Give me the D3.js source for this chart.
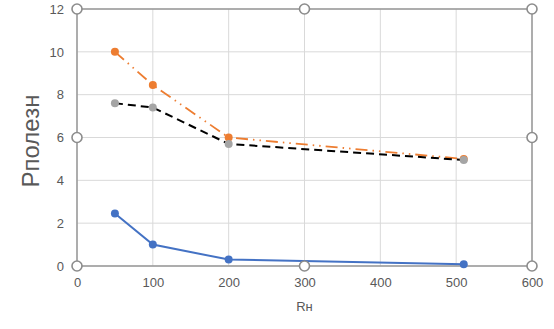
<!DOCTYPE html>
<html>
<head>
<meta charset="utf-8">
<script src="https://cdn.jsdelivr.net/npm/d3@7"></script>
<style>
  html, body { margin: 0; padding: 0; background: #fff; }
  svg { display: block; font-family: "Liberation Sans", "DejaVu Sans", sans-serif; }
</style>
</head>
<body>
<svg id="chart" width="554" height="329"></svg>
<script>
const xValues = [50, 100, 200, 510];
const seriesBlue = [2.45, 1.0, 0.3, 0.08];
const seriesOrange = [10.0, 8.45, 6.0, 5.0];
const seriesGray = [7.6, 7.4, 5.7, 4.95];
const xTicks = [0, 100, 200, 300, 400, 500, 600];
const yTicks = [0, 2, 4, 6, 8, 10, 12];
const yTitle = "Рполезн";
const xTitle = "Rн";

const svg = d3.select("#chart");
const pL = 77, pR = 532, pT = 9, pB = 266;

const x = d3.scaleLinear().domain([0, 600]).range([pL, pR]);
const y = d3.scaleLinear().domain([0, 12]).range([pB, pT]);

// gridlines
const g = svg.append("g");
g.selectAll("line.hg").data(yTicks).enter().append("line")
  .attr("x1", pL).attr("x2", pR)
  .attr("y1", d => y(d)).attr("y2", d => y(d))
  .attr("stroke", "#d9d9d9").attr("stroke-width", 1);
g.selectAll("line.vg").data(xTicks).enter().append("line")
  .attr("y1", pT).attr("y2", pB)
  .attr("x1", d => x(d)).attr("x2", d => x(d))
  .attr("stroke", "#d9d9d9").attr("stroke-width", 1);

// selection frame
svg.append("rect").attr("x", pL).attr("y", pT)
  .attr("width", pR - pL).attr("height", pB - pT)
  .attr("fill", "none").attr("stroke", "#8c8c8c").attr("stroke-width", 1.3);

// axes
const xAxis = d3.axisBottom(x).tickValues(xTicks).tickSize(0).tickPadding(12);
const yAxis = d3.axisLeft(y).tickValues(yTicks).tickSize(0).tickPadding(13);
const xa = svg.append("g").attr("transform", `translate(0,${pB})`).call(xAxis);
const ya = svg.append("g").attr("transform", `translate(${pL},0)`).call(yAxis);
[xa, ya].forEach(a => {
  a.select(".domain").remove();
  a.selectAll("text").attr("fill", "#595959").style("font-size", "13px")
    .style("font-family", "'Liberation Sans', sans-serif");
});

// series
function drawSeries(vals, color, dash, width) {
  const pts = xValues.map((xv, i) => [xv, vals[i]]);
  const line = d3.line().x(d => x(d[0])).y(d => y(d[1]));
  svg.append("path").datum(pts).attr("d", line)
    .attr("fill", "none").attr("stroke", color).attr("stroke-width", width)
    .attr("stroke-dasharray", dash);
}
drawSeries(seriesBlue, "#4472c4", null, 2);
drawSeries(seriesOrange, "#ed7d31", "12,5,1.5,5,1.5,5", 1.8);
drawSeries(seriesGray, "#000000", "8,5", 2);

function drawMarkers(vals, color) {
  svg.append("g").selectAll("circle").data(xValues.map((xv, i) => [xv, vals[i]]))
    .enter().append("circle")
    .attr("cx", d => x(d[0])).attr("cy", d => y(d[1])).attr("r", 4)
    .attr("fill", color);
}
drawMarkers(seriesBlue, "#4472c4");
drawMarkers(seriesOrange, "#ed7d31");
drawMarkers(seriesGray, "#a5a5a5");

// selection handles
const handles = [[pL, pT], [(pL + pR) / 2, pT], [pR, pT],
  [pL, (pT + pB) / 2], [pR, (pT + pB) / 2],
  [pL, pB], [(pL + pR) / 2, pB], [pR, pB]];
svg.append("g").selectAll("circle").data(handles).enter().append("circle")
  .attr("cx", d => d[0]).attr("cy", d => d[1]).attr("r", 5)
  .attr("fill", "#fff").attr("stroke", "#8c8c8c").attr("stroke-width", 1.6);

// titles
svg.append("text").attr("transform", `translate(38.5,141) rotate(-90)`)
  .attr("text-anchor", "middle").attr("fill", "#595959")
  .style("font-size", "24px").text(yTitle);
svg.append("text").attr("x", (pL + pR) / 2).attr("y", 311)
  .attr("text-anchor", "middle").attr("fill", "#595959")
  .style("font-size", "13px").text(xTitle);
</script>
</body>
</html>
